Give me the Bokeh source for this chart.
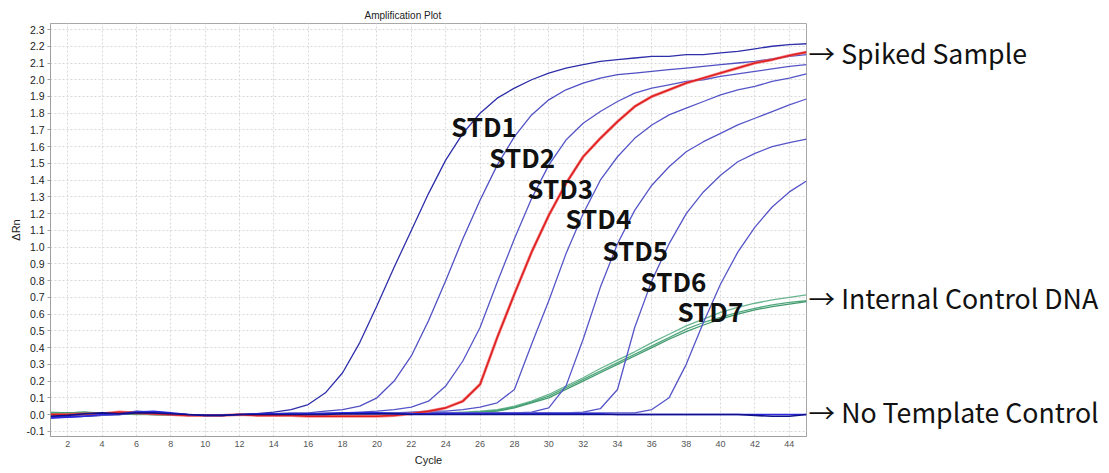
from bokeh.plotting import figure
from bokeh.layouts import row
from bokeh.models import Range1d, FixedTicker, PrintfTickFormatter, ColumnDataSource
from bokeh.core.properties import value
from bokeh.embed import file_html
from bokeh.resources import INLINE

cycles = list(range(1, 46))

std1 = [-0.02, -0.015, -0.01, -0.005, 0.005, 0.02, 0.015, 0.005, -0.005, -0.005, -0.005, 0.0, 0.005, 0.015,
        0.03, 0.06, 0.13, 0.25, 0.43, 0.65, 0.88, 1.10, 1.32, 1.52, 1.68, 1.80, 1.89, 1.95, 2.00, 2.04,
        2.07, 2.09, 2.11, 2.12, 2.13, 2.14, 2.14, 2.15, 2.15, 2.16, 2.17, 2.185, 2.20, 2.21, 2.215]
std2 = [-0.015, -0.01, -0.005, 0.0, 0.005, 0.015, 0.01, 0.005, 0.0, -0.005, -0.005, 0.0, 0.0, 0.005,
        0.01, 0.01, 0.02, 0.03, 0.05, 0.10, 0.20, 0.35, 0.56, 0.80, 1.05, 1.28, 1.49, 1.66, 1.79, 1.88,
        1.94, 1.98, 2.01, 2.03, 2.04, 2.05, 2.06, 2.07, 2.08, 2.09, 2.10, 2.11, 2.125, 2.14, 2.15]
std3 = [-0.01, -0.005, 0.0, 0.0, 0.01, 0.015, 0.01, 0.0, -0.005, -0.005, -0.005, 0.0, 0.0, 0.0,
        0.0, 0.005, 0.01, 0.01, 0.015, 0.02, 0.03, 0.045, 0.08, 0.17, 0.32, 0.52, 0.79, 1.05, 1.29, 1.49,
        1.64, 1.74, 1.81, 1.87, 1.92, 1.95, 1.97, 1.99, 2.00, 2.02, 2.035, 2.05, 2.065, 2.08, 2.09]
std4 = [-0.02, -0.01, -0.005, -0.005, 0.0, 0.01, 0.01, 0.005, 0.0, -0.005, -0.005, 0.0, 0.0, 0.0,
        0.0, 0.0, 0.005, 0.005, 0.01, 0.01, 0.01, 0.015, 0.02, 0.02, 0.03, 0.045, 0.07, 0.15, 0.42, 0.68,
        0.96, 1.20, 1.40, 1.54, 1.65, 1.73, 1.79, 1.83, 1.87, 1.91, 1.94, 1.96, 1.99, 2.01, 2.035]
std5 = [-0.01, -0.005, 0.0, 0.005, 0.01, 0.015, 0.005, 0.0, -0.005, -0.005, 0.0, 0.0, 0.0, 0.0,
        0.0, 0.0, 0.005, 0.005, 0.005, 0.01, 0.01, 0.01, 0.01, 0.01, 0.01, 0.01, 0.01, 0.01, 0.015, 0.04,
        0.17, 0.45, 0.76, 1.02, 1.22, 1.37, 1.48, 1.57, 1.63, 1.68, 1.73, 1.77, 1.81, 1.85, 1.885]
std6 = [-0.015, -0.01, -0.01, -0.005, 0.0, 0.01, 0.01, 0.0, -0.005, -0.005, -0.005, 0.0, 0.0, 0.0,
        0.0, 0.0, 0.0, 0.005, 0.005, 0.005, 0.01, 0.01, 0.01, 0.01, 0.01, 0.01, 0.01, 0.01, 0.01, 0.01,
        0.01, 0.015, 0.035, 0.15, 0.52, 0.80, 1.02, 1.20, 1.33, 1.43, 1.51, 1.56, 1.60, 1.625, 1.645]
std7 = [-0.01, -0.01, -0.005, 0.0, 0.005, 0.01, 0.005, 0.0, -0.005, -0.005, -0.005, 0.0, 0.0, 0.005,
        0.005, 0.005, 0.005, 0.005, 0.005, 0.005, 0.005, 0.01, 0.01, 0.01, 0.01, 0.01, 0.01, 0.01, 0.01, 0.01,
        0.01, 0.01, 0.01, 0.01, 0.01, 0.03, 0.10, 0.30, 0.55, 0.78, 0.97, 1.12, 1.24, 1.33, 1.395]
spiked = [0.0, 0.0, 0.005, 0.005, 0.015, 0.01, 0.005, 0.0, -0.005, -0.005, -0.005, 0.0, -0.005, -0.005,
          -0.005, -0.01, -0.01, -0.01, -0.01, -0.01, -0.005, 0.005, 0.02, 0.04, 0.08, 0.18, 0.46, 0.72, 0.97, 1.19,
          1.38, 1.54, 1.65, 1.75, 1.84, 1.90, 1.94, 1.98, 2.01, 2.04, 2.07, 2.10, 2.12, 2.145, 2.165]
ic1 = [0.01, 0.01, 0.015, 0.01, 0.005, 0.005, 0.0, 0.0, -0.005, -0.005, -0.005, 0.0, 0.005, 0.005,
       0.0, 0.0, 0.0, 0.0, 0.005, 0.005, 0.005, 0.005, 0.01, 0.01, 0.01, 0.015, 0.025, 0.045, 0.075, 0.11,
       0.16, 0.21, 0.26, 0.31, 0.36, 0.41, 0.46, 0.51, 0.55, 0.58, 0.61, 0.635, 0.655, 0.67, 0.68]
ic2 = [0.015, 0.01, 0.01, 0.01, 0.005, 0.0, 0.0, 0.0, -0.005, -0.005, -0.005, 0.0, 0.005, 0.005,
       0.005, 0.0, 0.0, 0.005, 0.005, 0.005, 0.005, 0.01, 0.01, 0.01, 0.015, 0.02, 0.03, 0.05, 0.08, 0.12,
       0.17, 0.22, 0.275, 0.325, 0.375, 0.43, 0.48, 0.53, 0.57, 0.61, 0.64, 0.665, 0.685, 0.70, 0.715]
ic3 = [0.005, 0.01, 0.015, 0.005, 0.0, 0.005, 0.0, -0.005, -0.005, -0.005, -0.005, 0.0, 0.0, 0.005,
       0.0, 0.0, 0.0, 0.0, 0.0, 0.005, 0.005, 0.005, 0.005, 0.01, 0.01, 0.015, 0.02, 0.04, 0.07, 0.10,
       0.15, 0.20, 0.25, 0.30, 0.35, 0.40, 0.45, 0.495, 0.535, 0.57, 0.60, 0.625, 0.645, 0.66, 0.675]
ntc1 = [-0.01, -0.005, 0.005, 0.01, 0.005, 0.01, 0.01, 0.005, 0.0, -0.005, -0.005, 0.0, 0.0, 0.0,
        0.0, 0.0, 0.0, 0.005, 0.005, 0.005, 0.005, 0.0, 0.0, 0.0, 0.0, 0.0, 0.0, 0.0, 0.0, 0.0,
        0.0, 0.0, 0.0, 0.0, 0.0, 0.0, 0.0, 0.0, 0.0, 0.0, 0.0, -0.005, -0.01, -0.01, 0.0]
ntc2 = [-0.02, -0.015, -0.01, 0.0, 0.005, 0.015, 0.02, 0.01, 0.0, -0.005, -0.005, 0.0, 0.005, 0.005,
        0.005, 0.005, 0.005, 0.01, 0.01, 0.01, 0.005, 0.005, 0.005, 0.005, 0.005, 0.005, 0.005, 0.005, 0.005, 0.005,
        0.005, 0.005, 0.005, 0.0, 0.0, 0.0, 0.0, 0.0, 0.0, 0.0, 0.0, 0.0, 0.0, 0.0, 0.0]

std_names = ["STD1", "STD2", "STD3", "STD4", "STD5", "STD6", "STD7"]
std_label_x = [24.32, 26.54, 28.75, 30.97, 33.12, 35.34, 37.49]
std_label_y = [1.726, 1.541, 1.356, 1.176, 0.985, 0.800, 0.621]

y_ticks = [-0.1, 0.0, 0.1, 0.2, 0.3, 0.4, 0.5, 0.6, 0.7, 0.8, 0.9, 1.0, 1.1, 1.2,
           1.3, 1.4, 1.5, 1.6, 1.7, 1.8, 1.9, 2.0, 2.1, 2.2, 2.3]
x_ticks = [2, 4, 6, 8, 10, 12, 14, 16, 18, 20, 22, 24, 26, 28, 30, 32, 34, 36, 38, 40, 42, 44]

side_texts = ["→ Spiked Sample", "→ Internal Control DNA", "→ No Template Control"]
side_y = [2.162, 0.699, 0.018]

AX_FONT = "Liberation Sans"
CJK = "Noto Sans CJK JP"
H = 468
TOP, BOTTOM = 23, 32

yr = Range1d(-0.131, 2.336)
p = figure(width=807, height=H, x_range=Range1d(1, 45), y_range=yr,
           output_backend="svg", toolbar_location=None, title="Amplification Plot",
           min_border_left=50, min_border_right=1, min_border_top=TOP, min_border_bottom=BOTTOM)
p.title.text_font = AX_FONT
p.title.text_font_size = "10px"
p.title.text_font_style = "normal"
p.title.text_color = "#222222"
p.title.align = "left"
p.title.offset = 314
p.title.standoff = 5
p.outline_line_color = "#a8a8a8"

p.yaxis.ticker = FixedTicker(ticks=y_ticks)
p.yaxis.formatter = PrintfTickFormatter(format="%.1f")
p.xaxis.ticker = FixedTicker(ticks=x_ticks)
for ax in (p.xaxis[0], p.yaxis[0]):
    ax.axis_line_color = "#a0a0a0"
    ax.major_tick_line_color = "#a0a0a0"
    ax.minor_tick_line_color = None
    ax.major_tick_in = 0
    ax.major_label_text_font = AX_FONT
    ax.axis_label_text_font = AX_FONT
    ax.axis_label_text_font_size = "11px"
    ax.axis_label_text_font_style = "normal"
    ax.axis_label_text_color = "#222222"
p.yaxis.major_tick_out = 3
p.yaxis.major_label_standoff = 3
p.yaxis.major_label_text_font_size = "10.5px"
p.yaxis.major_label_text_color = "#222222"
p.yaxis.axis_label = "ΔRn"
p.yaxis.axis_label_standoff = 1
p.xaxis.major_tick_out = 0
p.xaxis.major_label_standoff = 4
p.xaxis.major_label_text_font_size = "9px"
p.xaxis.major_label_text_color = "#555555"
p.xaxis.axis_label = "Cycle"
p.xaxis.axis_label_standoff = 4

for g in (p.xgrid[0], p.ygrid[0]):
    g.grid_line_color = "#d8d8d8"
    g.grid_line_dash = "2 2"
    g.grid_line_width = 1

# internal control (green)
for ys, c in ((ic2, "#5aae84"), (ic3, "#2f8f60"), (ic1, "#3f9e70")):
    p.line(cycles, ys, line_color=c, line_width=1.3, line_alpha=0.9)

# standards
std_series = [std1, std2, std3, std4, std5, std6, std7]
std_colors = ["#2e2eaa", "#5050c4", "#5555c8", "#5555c8", "#5555c8", "#5555c8", "#5555c8"]
for ys, c in zip(std_series, std_colors):
    p.line(cycles, ys, line_color=c, line_width=1.3)

# spiked sample (red)
p.line(cycles, spiked, line_color="#f06060", line_width=3.0, line_alpha=0.7)
p.line(cycles, spiked, line_color="#e02020", line_width=1.6)

# no template control
p.line(cycles, ntc2, line_color="#2a2ae0", line_width=1.6)
p.line(cycles, ntc1, line_color="#10108a", line_width=1.6)

# STD labels
src = ColumnDataSource(dict(x=std_label_x, y=std_label_y, t=std_names))
p.text(x="x", y="y", text="t", source=src, text_font=value(CJK), text_font_style="bold",
       text_font_size="26px", text_color="#111111", text_baseline="alphabetic", text_align="left")

# right-hand annotation panel sharing the y scale
side = figure(width=293, height=H, x_range=Range1d(0, 293), y_range=yr,
              output_backend="svg", toolbar_location=None,
              x_axis_location=None, y_axis_location=None,
              min_border_left=0, min_border_right=0, min_border_top=TOP, min_border_bottom=BOTTOM)
side.outline_line_color = None
side.grid.visible = False
side_src = ColumnDataSource(dict(x=[1, 1, 1], y=side_y, t=side_texts))
side.text(x="x", y="y", text="t", source=side_src, text_font=value(CJK), text_font_size="26.7px",
          text_color="#111111", text_baseline="alphabetic", text_align="left")

layout = row(p, side, spacing=0)
open("out.html", "w").write(file_html(layout, INLINE))
